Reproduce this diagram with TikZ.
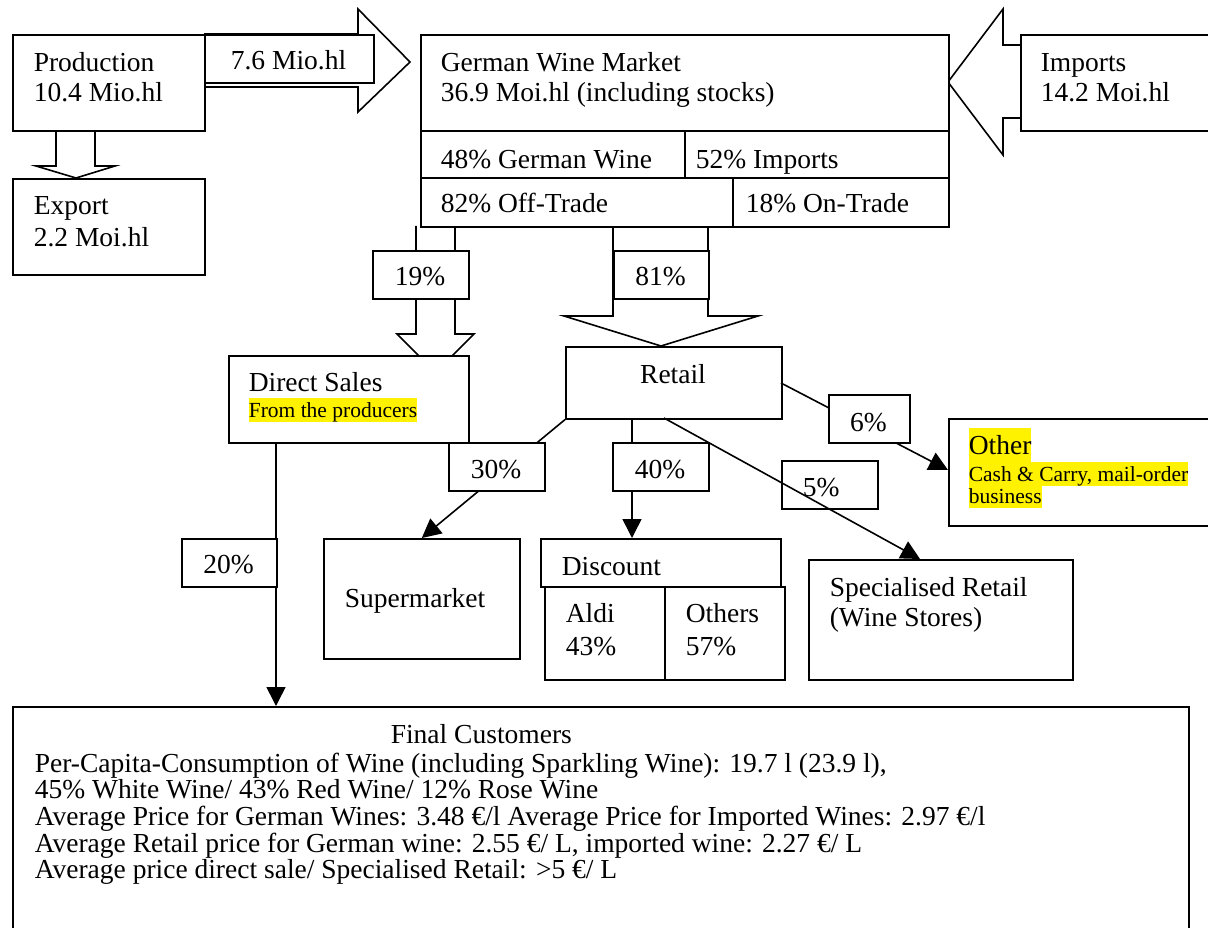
\documentclass[tikz,border=0pt]{standalone}
\usepackage{fontspec}
\setmainfont{Liberation Serif}
\usetikzlibrary{arrows.meta}
\newcommand\fbig{\fontsize{27.5}{31.5}\selectfont}
\newcommand\fsmall{\fontsize{21.5}{23}\selectfont}
\begin{document}
\begin{tikzpicture}[x=1pt,y=-1pt,line width=1.6pt,
  box/.style={draw, fill=white, inner sep=0pt, anchor=north west},
  obox/.style={draw, inner sep=0pt, anchor=north west},
  lab/.style={inner sep=0pt, anchor=base west, font=\fbig},
  labc/.style={inner sep=0pt, anchor=base, font=\fbig},
  hlbig/.style={fill=yellow, inner sep=0pt, anchor=base west, font=\fbig, text height=26pt, text depth=8pt},
  hlsmall/.style={fill=yellow, inner sep=0pt, anchor=base west, font=\fsmall, text height=19pt, text depth=5pt},
  conn/.style={draw, -{Triangle[length=19pt,width=19pt]}},
  blk/.style={draw, fill=white, line join=miter}]
\useasboundingbox (0,0) rectangle (1208,928);
\fill[white] (0,0) rectangle (1208,928);

% block arrows
\draw[blk] (204,34) -- (358,34) -- (358,9) -- (410,62) -- (358,112) -- (358,87) -- (204,87);
\draw[blk] (56,130) -- (56,166) -- (36,166) -- (76,178) -- (115,166) -- (95,166) -- (95,130);
\draw[blk] (1020,45) -- (1003,45) -- (1003,9) -- (948,82) -- (1003,155) -- (1003,118) -- (1020,118);
\draw[blk] (416,226) -- (416,334) -- (397,334) -- (435.5,372.5) -- (474,334) -- (455,334) -- (455,226);
\draw[blk] (613,226) -- (613,316) -- (564,316) -- (661,346) -- (758,316) -- (708,316) -- (708,226);

% main boxes
\node[box, minimum width=192pt, minimum height=96pt] (prod) at (12,34) {};
\node[box, minimum width=192pt, minimum height=96pt] (export) at (12,178) {};
\node[box, minimum width=169pt, minimum height=48pt] (l76) at (204,34) {};
\node[box, minimum width=528pt, minimum height=96pt] (gwm) at (420,34) {};
\node[box, minimum width=264pt, minimum height=47pt] (gw48) at (420,130) {};
\node[box, minimum width=264pt, minimum height=47pt] (gw52) at (684,130) {};
\node[box, minimum width=312pt, minimum height=49pt] (gw82) at (420,177) {};
\node[box, minimum width=216pt, minimum height=49pt] (gw18) at (732,177) {};
\node[box, minimum width=200pt, minimum height=96pt] (imports) at (1020,34) {};
\node[box, minimum width=96pt, minimum height=48pt] (l19) at (372,250) {};
\node[box, minimum width=95pt, minimum height=48pt] (l81) at (613,250) {};
\node[box, minimum width=240pt, minimum height=87pt] (direct) at (228,355) {};
\node[box, minimum width=216pt, minimum height=72pt] (retail) at (565,346) {};
\node[box, minimum width=270pt, minimum height=107pt] (other) at (948,418) {};
\node[box, minimum width=196pt, minimum height=120pt] (super) at (323,538) {};
\node[box, minimum width=240pt, minimum height=48pt] (disc) at (540,538) {};
\node[box, minimum width=120pt, minimum height=93pt] (aldi) at (544,586) {};
\node[box, minimum width=120pt, minimum height=93pt] (others) at (664,586) {};
\node[box, minimum width=264pt, minimum height=120pt] (spec) at (808,559) {};
\node[box, minimum width=1176pt, minimum height=240pt] (final) at (12,706) {};

% connectors
\coordinate (r40) at (632,418);
\coordinate (r5) at (664,418);
\coordinate (s5) at (920,559);
\coordinate (r6) at (781,383);
\coordinate (o6) at (948,470);
\coordinate (d20) at (276,442);
\node[obox, minimum width=96pt, minimum height=48pt] (l5) at (781,460) {};
\draw[conn] (retail.south west) -- (super.north);
\draw[conn] (r40) -- (r40 |- disc.north);
\draw[conn] (r5) -- (s5);
\draw[conn] (r6) -- (o6);
\draw[conn] (d20) -- (d20 |- final.north);

% label boxes on connectors
\node[box, minimum width=96pt, minimum height=48pt] (l30) at (448,442) {};
\node[box, minimum width=96pt, minimum height=48pt] (l40) at (612,442) {};
\node[box, minimum width=81pt, minimum height=48pt] (l6) at (828,394) {};
\node[box, minimum width=95pt, minimum height=48pt] (l20) at (181,538) {};

% texts
\node[lab] (tprod1) at (33,72) {Production};
\node[lab] (tprod2) at (33,102) {10.4 Mio.hl};
\node[lab] (texp1) at (33,215) {Export};
\node[lab] (texp2) at (33,247) {2.2 Moi.hl};
\node[labc] (t76) at (288.5,70) {7.6 Mio.hl};
\node[lab] (tgwm1) at (440,72) {German Wine Market};
\node[lab] (tgwm2) at (440,102) {36.9 Moi.hl (including stocks)};
\node[lab] (t48) at (440,169) {48\% German Wine};
\node[lab] (t52) at (695,169) {52\% Imports};
\node[lab] (t82) at (440,213) {82\% Off-Trade};
\node[lab] (t18) at (745,213) {18\% On-Trade};
\node[lab] (timp1) at (1040,72) {Imports};
\node[lab] (timp2) at (1040,102) {14.2 Moi.hl};
\node[labc] (t19) at (420,286) {19\%};
\node[labc] (t81) at (660.5,286) {81\%};
\node[lab] (tdir1) at (248,391) {Direct Sales};
\node[hlsmall] (tdir2) at (248,417) {From the producers};
\node[labc] (tret) at (673,383) {Retail};
\node[labc] (t30) at (496,478) {30\%};
\node[labc] (t40) at (660,478) {40\%};
\node[labc] (t6) at (868.5,431) {6\%};
\node[lab] (t5) at (802,496) {5\%};
\node[hlbig] (toth1) at (968,454) {Other};
\node[hlsmall] (toth2) at (968,481) {Cash \& Carry, mail-order};
\node[hlsmall] (toth3) at (968,503) {business};
\node[lab] (tsup) at (344,607) {Supermarket};
\node[lab] (tdisc) at (561,575) {Discount};
\node[lab] (tald1) at (565,622) {Aldi};
\node[lab] (tald2) at (565,655) {43\%};
\node[lab] (toth4) at (685,622) {Others};
\node[lab] (toth5) at (685,655) {57\%};
\node[lab] (tspec1) at (829,596) {Specialised Retail};
\node[lab] (tspec2) at (829,626) {(Wine Stores)};
\node[labc] (t20) at (228.5,573) {20\%};
\node[lab] (tfin0) at (390,743) {Final Customers};
\node[lab] (tfin1) at (34,772) {Per-Capita-Consumption of Wine (including Sparkling Wine): 19.7 l (23.9 l),};
\node[lab] (tfin2) at (34,798) {45\% White Wine/ 43\% Red Wine/ 12\% Rose Wine};
\node[lab] (tfin3) at (34,825) {Average Price for German Wines: 3.48 €/l Average Price for Imported Wines: 2.97 €/l};
\node[lab] (tfin4) at (34,852) {Average Retail price for German wine: 2.55 €/ L, imported wine: 2.27 €/ L};
\node[lab] (tfin5) at (34,878) {Average price direct sale/ Specialised Retail: >5 €/ L};
\end{tikzpicture}
\end{document}
